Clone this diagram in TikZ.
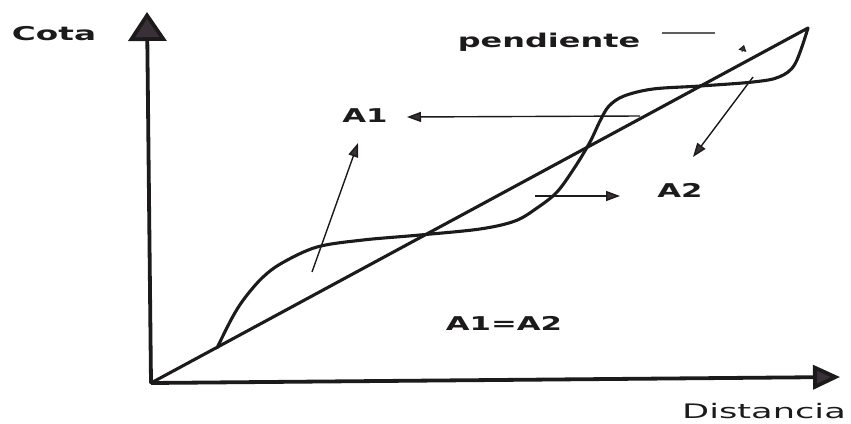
\documentclass[tikz,border=0pt]{standalone}
\usepackage{fontspec}
\setmainfont{DejaVu Sans}
\usetikzlibrary{arrows.meta}
\definecolor{inkc}{HTML}{1C1A1B}
\definecolor{headc}{HTML}{3A3039}
\newcommand{\wide}[2]{\scalebox{#1}[1]{#2}}
\begin{document}
\begin{tikzpicture}[x=1pt,y=-1pt,
  axisline/.style={draw=inkc, line width=3.8pt},
  curveline/.style={draw=inkc, line width=3.1pt, line join=round, line cap=round},
  pointer/.style={draw=inkc, line width=1.4pt, -{Triangle[length=14pt,width=10pt,fill=headc]}},
  lbl/.style={inner sep=0pt, anchor=base, text=inkc, font=\fontsize{19}{19}\selectfont\bfseries},
]
\useasboundingbox (0,0) rectangle (851,423);

% axes
\coordinate (O) at (151,383);
\coordinate (ytop) at (147,12);
\coordinate (xtip) at (840,377);
\draw[axisline, -{Triangle[length=29pt,width=38pt,fill=headc]}] (O) -- (ytop);
\draw[axisline, -{Triangle[length=27pt,width=24pt,fill=headc]}] (O) -- (xtip);

% straight line (pendiente)
\coordinate (P) at (808,28);
\draw[curveline] (O) -- (P);

% wavy profile
\coordinate (S) at (217,348);
\draw[curveline] plot[smooth, tension=0.55] coordinates {
  (S) (232,318) (244,299) (262,278) (282,263) (317,247) (363,240) (420,235)
  (480,229) (515,221) (537,208) (557,192) (575,167) (590,142) (600,121)
  (609,106) (624,96) (653,89) (700,86) (753,82) (779,77) (795,64) (P)};

% labels
\node[lbl] (cota) at (54,40) {\wide{1.72}{Cota}};
\node[lbl] (pend) at (549,47) {\wide{1.68}{pendiente}};
\node[lbl] (A1) at (365,122) {\wide{1.62}{A1}};
\node[lbl] (A2) at (680,197) {\wide{1.62}{A2}};
\node[lbl] (eq) at (504,330) {\wide{1.62}{A1=A2}};
\node[lbl, font=\fontsize{20}{20}\selectfont] (dist) at (764,418) {\wide{1.76}{Distancia}};

% pointers
\coordinate (t1) at (640,116); \coordinate (h1) at (407,117);
\draw[pointer] (t1) -- (h1);
\coordinate (t2) at (312,272); \coordinate (h2) at (358,143);
\draw[pointer] (t2) -- (h2);
\coordinate (t3) at (753,77); \coordinate (h3) at (693,157);
\draw[pointer] (t3) -- (h3);
\coordinate (t4) at (535,196); \coordinate (h4) at (620,196);
\draw[pointer] (t4) -- (h4);

% pendiente pointer
\coordinate (p1) at (662,33); \coordinate (p2) at (715,33);
\draw[draw=inkc!70, line width=1.1pt] (p1) -- (p2);
\coordinate (q1) at (742,52); \coordinate (q2) at (744,45);
\draw[draw=inkc, line width=0.8pt, -{Triangle[length=6pt,width=8pt,fill=headc]}] (q1) -- (q2);
\end{tikzpicture}
\end{document}
